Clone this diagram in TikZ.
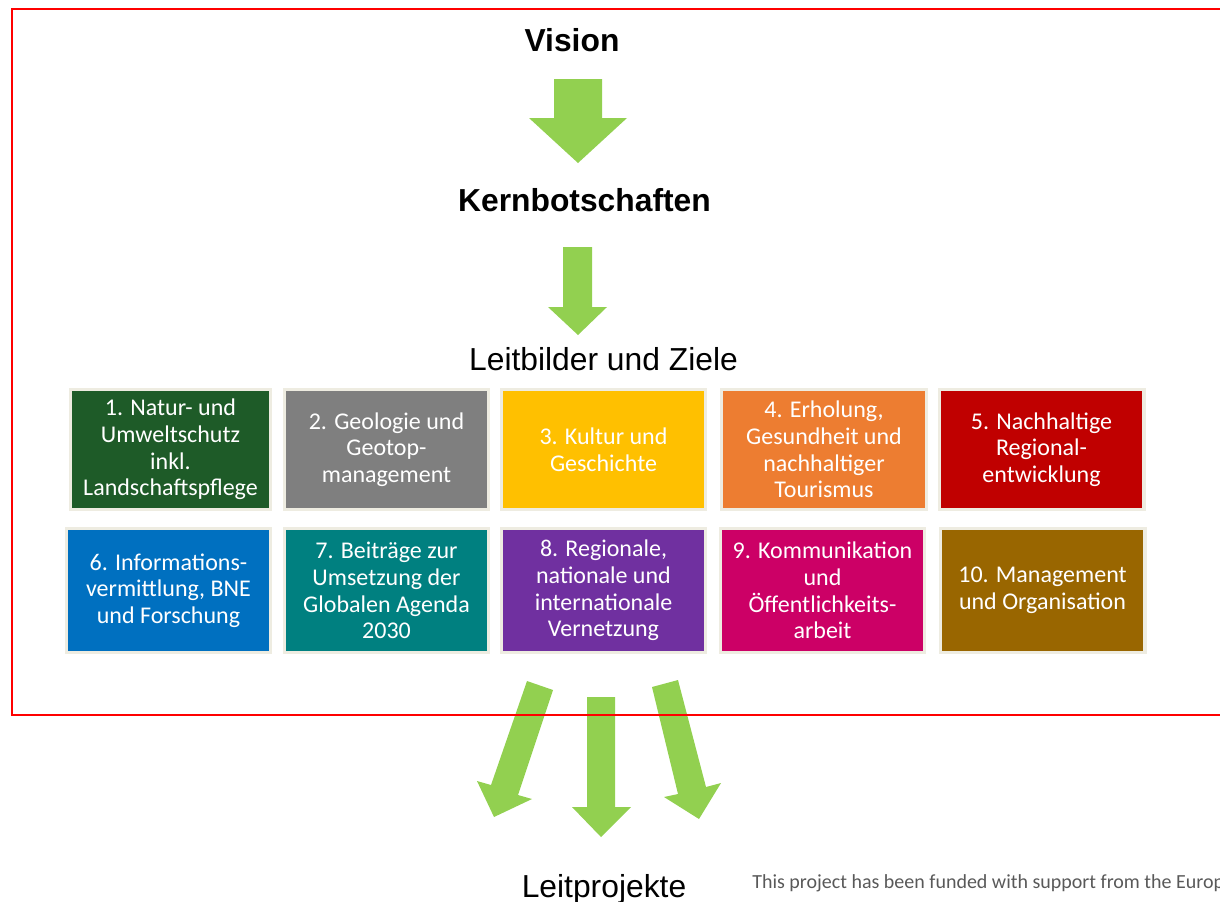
\documentclass[tikz,border=0pt]{standalone}
\usepackage{fontspec}
\setmainfont{Liberation Sans}
\newfontfamily\calibri{Carlito}
\definecolor{cA}{HTML}{1E5B28}
\definecolor{cB}{HTML}{7F7F7F}
\definecolor{cC}{HTML}{FFC000}
\definecolor{cD}{HTML}{ED7D31}
\definecolor{cE}{HTML}{C00000}
\definecolor{cF}{HTML}{0070C0}
\definecolor{cG}{HTML}{008080}
\definecolor{cH}{HTML}{7030A0}
\definecolor{cI}{HTML}{CC0066}
\definecolor{cJ}{HTML}{996600}
\definecolor{frame}{HTML}{EEECE1}
\definecolor{arrowgreen}{HTML}{92D050}
\definecolor{footgray}{HTML}{595959}
\begin{document}
\begin{tikzpicture}[x=0.75pt,y=-0.75pt,
  goal/.style={draw=frame, line width=2.6pt, text=white, align=center,
    font=\calibri\fontsize{18}{20}\selectfont, inner sep=0pt,
    minimum height=120.5*0.75pt},
  title/.style={anchor=base, font=\fontsize{23.85}{28}\selectfont},
  blockarrow/.style={fill=arrowgreen, draw=none}]
\useasboundingbox (0,0) rectangle (1220,901);

% titles
\node[title, font=\bfseries\fontsize{23.85}{28}\selectfont] (vision) at (572,51) {Vision};
\node[title, font=\bfseries\fontsize{23.85}{28}\selectfont] (kern) at (584.5,211) {Kernbotschaften};
\node[title] (leit) at (603.5,370) {Leitbilder und Ziele};
\node[title] (proj) at (604,897) {Leitprojekte};

% goal boxes row 1
\node[goal, fill=cA, minimum width=200.5*0.75pt] (g1) at (170.5,449.5) {1. Natur- und\\Umweltschutz\\inkl.\\Landschaftspflege};
\node[goal, fill=cB, minimum width=204.5*0.75pt] (g2) at (386.5,449.5) {2. Geologie und\\Geotop-\\management};
\node[goal, fill=cC, minimum width=204.5*0.75pt] (g3) at (603.5,449.5) {3. Kultur und\\Geschichte};
\node[goal, fill=cD, minimum width=205.5*0.75pt] (g4) at (824,449.5) {4. Erholung,\\Gesundheit und\\nachhaltiger\\Tourismus};
\node[goal, fill=cE, minimum width=204.5*0.75pt] (g5) at (1041.5,449.5) {5. Nachhaltige\\Regional-\\entwicklung};
% row 2
\node[goal, fill=cF, minimum width=204.5*0.75pt, minimum height=124.5*0.75pt] (g6) at (168.5,590.5) {6. Informations-\\vermittlung, BNE\\und Forschung};
\node[goal, fill=cG, minimum width=204.5*0.75pt, minimum height=124.5*0.75pt] (g7) at (386.5,590.5) {7. Beiträge zur\\Umsetzung der\\Globalen Agenda\\2030};
\node[goal, fill=cH, minimum width=204.5*0.75pt, minimum height=124.5*0.75pt] (g8) at (603.5,590.5) {8. Regionale,\\nationale und\\internationale\\Vernetzung};
\node[goal, fill=cI, minimum width=204.5*0.75pt, minimum height=124.5*0.75pt] (g9) at (822.5,590.5) {9. Kommunikation\\und\\Öffentlichkeits-\\arbeit};
\node[goal, fill=cJ, minimum width=204.5*0.75pt, minimum height=124.5*0.75pt] (g10) at (1042.5,590.5) {10. Management\\und Organisation};

% block arrows
\fill[blockarrow] (554,79)--(602,79)--(602,118)--(627,118)--(578,163)--(529,118)--(554,118)--cycle;
\fill[blockarrow] (563,247)--(592,247)--(592,307)--(607,307)--(578,335)--(548,307)--(563,307)--cycle;
\fill[blockarrow] (587,697)--(615,697)--(615,807)--(631,807)--(601,837)--(572,807)--(587,807)--cycle;
\fill[blockarrow] (527,681)--(553,690)--(518,795)--(532,799)--(494,817)--(477,781)--(491,785)--cycle;
\fill[blockarrow] (652,687)--(678,680)--(706,787)--(721,783)--(699,819)--(664,797)--(678,794)--cycle;

% red frame
\draw[red, line width=1.6pt] (12,9) rectangle (1240,715);

% footnote
\node[anchor=base west, inner sep=0pt, text=footgray, font=\calibri\fontsize{15}{18}\selectfont] (foot) at (752,888) {This project has been funded with support from the European Commission.};
\end{tikzpicture}
\end{document}
